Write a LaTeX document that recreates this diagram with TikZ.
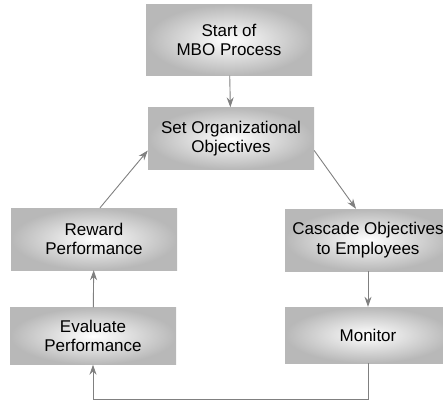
\documentclass[tikz,border=0pt]{standalone}
\usepackage{fontspec}
\setmainfont{Liberation Sans}
\usetikzlibrary{arrows.meta}
\begin{document}
\begin{tikzpicture}[x=1pt,y=1pt,
  stepbox/.style={shade, shading=radial, inner color=white, outer color=black!28,
    minimum width=166pt, minimum height=62pt, align=center, inner sep=3pt,
    font=\fontsize{17}{19.5}\selectfont},
  link/.style={draw=black!50, line width=0.9pt},
  tip/.style={-{Stealth[length=10pt,width=7pt]}}]
\useasboundingbox (0,0) rectangle (443,-401);
% process steps
\node[stepbox, minimum height=71pt] (start) at (229,-40) {Start of\\MBO Process};
\node[stepbox] (set) at (231,-138.5) {Set Organizational\\Objectives};
\node[stepbox] (reward) at (94,-239) {Reward\\Performance};
\node[stepbox] (cascade) at (368,-240) {Cascade Objectives\\to Employees};
\node[stepbox, minimum height=57pt] (evaluate) at (93,-336) {Evaluate\\Performance};
\node[stepbox, minimum height=56pt] (monitor) at (368,-335) {Monitor};
\coordinate (floor) at (0,-399.5);
% flow of the cycle
\draw[link,tip] (start) -- (set);
\draw[link,tip] ([yshift=-12pt]set.east) -- ([xshift=-12pt]cascade.north);
\draw[link,tip] (cascade) -- (monitor);
\draw[link,tip] (monitor.south) |- (evaluate.south |- floor) -- (evaluate.south);
\draw[link,tip] (evaluate) -- (reward);
\draw[link,tip] ([xshift=6pt]reward.north) -- ([yshift=-12pt]set.west);
\end{tikzpicture}
\end{document}
